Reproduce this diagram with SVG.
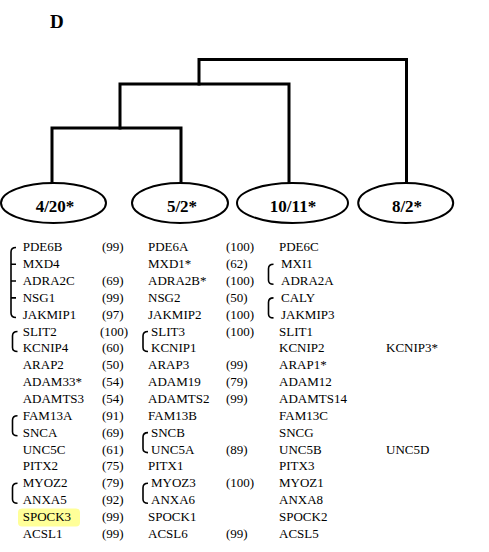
<svg xmlns="http://www.w3.org/2000/svg" width="489" height="552" viewBox="0 0 489 552">
<style>
.t{font-family:'Liberation Serif',serif;font-size:13px;fill:#000}
.lb{font-family:'Liberation Serif',serif;font-size:17px;font-weight:bold;fill:#000;text-anchor:middle}
.tree{fill:none;stroke:#000;stroke-width:3;stroke-linecap:square}
.ell{fill:#fff;stroke:#000;stroke-width:2}
.br{fill:none;stroke:#000;stroke-width:1.6}
</style>
<rect width="489" height="552" fill="#fff"/>
<text x="50" y="28" font-family="Liberation Serif, serif" font-size="19" font-weight="bold">D</text>
<g id="connectors">
<path class="tree" d="M199,84 V59.5 H406.5 V183"/>
<path class="tree" d="M120,128 V84 H289 V183"/>
<path class="tree" d="M52,183 V128 H181 V183"/>
</g>
<g id="n1"><ellipse class="ell" cx="53.5" cy="203" rx="52.5" ry="20"/><text class="lb" x="55" y="212">4/20*</text></g>
<g id="n2"><ellipse class="ell" cx="180" cy="203" rx="48" ry="20"/><text class="lb" x="182" y="212">5/2*</text></g>
<g id="n3"><ellipse class="ell" cx="292.5" cy="203" rx="55.5" ry="20"/><text class="lb" x="293" y="212">10/11*</text></g>
<g id="n4"><ellipse class="ell" cx="405.7" cy="203" rx="47.5" ry="20"/><text class="lb" x="407" y="212">8/2*</text></g>
<g id="highlight"><rect x="18" y="508.5" width="62" height="18" rx="4" fill="#ffff99"/></g>
<g id="brackets">
<path class="br" d="M16,247.5 Q11,247.5 11,252 V313 Q11,317.5 16,317.5"/>
<path class="br" d="M11,264.2 H16 M11,281 H16 M11,297.9 H16"/>
<path class="br" d="M17.5,331.5 Q12.5,331.5 12.5,336 V347.5 Q12.5,351.5 17.5,351.5"/>
<path class="br" d="M17.5,415.8 Q12.5,415.8 12.5,420.3 V431.8 Q12.5,435.8 17.5,435.8"/>
<path class="br" d="M17.5,483.2 Q12.5,483.2 12.5,487.7 V499.2 Q12.5,503.2 17.5,503.2"/>
<path class="br" d="M148,331.5 Q143,331.5 143,336 V347.5 Q143,351.5 148,351.5"/>
<path class="br" d="M148,432.6 Q143,432.6 143,437.1 V448.6 Q143,452.6 148,452.6"/>
<path class="br" d="M148,483.2 Q143,483.2 143,487.7 V499.2 Q143,503.2 148,503.2"/>
<path class="br" d="M273.5,264.2 Q268.5,264.2 268.5,268.7 V280.2 Q268.5,284.2 273.5,284.2"/>
<path class="br" d="M273.5,297.9 Q268.5,297.9 268.5,302.4 V313.9 Q268.5,317.9 273.5,317.9"/>
</g>
<g id="col1" class="t" font-family="Liberation Serif, serif">
<text x="22.7" y="251.3">PDE6B</text>
<text x="22.7" y="268.2">MXD4</text>
<text x="22.7" y="285">ADRA2C</text>
<text x="22.7" y="301.9">NSG1</text>
<text x="22.7" y="318.7">JAKMIP1</text>
<text x="22.7" y="335.6">SLIT2</text>
<text x="22.7" y="352.4">KCNIP4</text>
<text x="22.7" y="369.3">ARAP2</text>
<text x="22.7" y="386.1">ADAM33*</text>
<text x="22.7" y="403">ADAMTS3</text>
<text x="22.7" y="419.8">FAM13A</text>
<text x="22.7" y="436.7">SNCA</text>
<text x="22.7" y="453.5">UNC5C</text>
<text x="22.7" y="470.4">PITX2</text>
<text x="22.7" y="487.2">MYOZ2</text>
<text x="22.7" y="504.1">ANXA5</text>
<text x="22.7" y="520.9">SPOCK3</text>
<text x="22.7" y="537.8">ACSL1</text>
</g>
<g id="col1num" class="t">
<text x="102" y="251.3">(99)</text>
<text x="102" y="285">(69)</text>
<text x="102" y="301.9">(99)</text>
<text x="102" y="318.7">(97)</text>
<text x="100" y="335.6">(100)</text>
<text x="102" y="352.4">(60)</text>
<text x="102" y="369.3">(50)</text>
<text x="102" y="386.1">(54)</text>
<text x="102" y="403">(54)</text>
<text x="102" y="419.8">(91)</text>
<text x="102" y="436.7">(69)</text>
<text x="102" y="453.5">(61)</text>
<text x="102" y="470.4">(75)</text>
<text x="102" y="487.2">(79)</text>
<text x="102" y="504.1">(92)</text>
<text x="102" y="520.9">(99)</text>
<text x="102" y="537.8">(99)</text>
</g>
<g id="col2" class="t">
<text x="148" y="251.3">PDE6A</text>
<text x="148" y="268.2">MXD1*</text>
<text x="148" y="285">ADRA2B*</text>
<text x="148" y="301.9">NSG2</text>
<text x="148" y="318.7">JAKMIP2</text>
<text x="151" y="335.6">SLIT3</text>
<text x="151" y="352.4">KCNIP1</text>
<text x="148" y="369.3">ARAP3</text>
<text x="148" y="386.1">ADAM19</text>
<text x="148" y="403">ADAMTS2</text>
<text x="148" y="419.8">FAM13B</text>
<text x="151" y="436.7">SNCB</text>
<text x="151" y="453.5">UNC5A</text>
<text x="148" y="470.4">PITX1</text>
<text x="151" y="487.2">MYOZ3</text>
<text x="151" y="504.1">ANXA6</text>
<text x="148" y="520.9">SPOCK1</text>
<text x="148" y="537.8">ACSL6</text>
</g>
<g id="col2num" class="t">
<text x="226" y="251.3">(100)</text>
<text x="226" y="268.2">(62)</text>
<text x="226" y="285">(100)</text>
<text x="226" y="301.9">(50)</text>
<text x="226" y="318.7">(100)</text>
<text x="226" y="335.6">(100)</text>
<text x="226" y="369.3">(99)</text>
<text x="226" y="386.1">(79)</text>
<text x="226" y="403">(99)</text>
<text x="226" y="453.5">(89)</text>
<text x="226" y="487.2">(100)</text>
<text x="226" y="537.8">(99)</text>
</g>
<g id="col3" class="t">
<text x="279" y="251.3">PDE6C</text>
<text x="281" y="268.2">MXI1</text>
<text x="281" y="285">ADRA2A</text>
<text x="281" y="301.9">CALY</text>
<text x="281" y="318.7">JAKMIP3</text>
<text x="279" y="335.6">SLIT1</text>
<text x="279" y="352.4">KCNIP2</text>
<text x="279" y="369.3">ARAP1*</text>
<text x="279" y="386.1">ADAM12</text>
<text x="279" y="403">ADAMTS14</text>
<text x="279" y="419.8">FAM13C</text>
<text x="279" y="436.7">SNCG</text>
<text x="279" y="453.5">UNC5B</text>
<text x="279" y="470.4">PITX3</text>
<text x="279" y="487.2">MYOZ1</text>
<text x="279" y="504.1">ANXA8</text>
<text x="279" y="520.9">SPOCK2</text>
<text x="279" y="537.8">ACSL5</text>
</g>
<g id="col4" class="t">
<text x="386" y="352.4">KCNIP3*</text>
<text x="386" y="453.5">UNC5D</text>
</g>
</svg>
